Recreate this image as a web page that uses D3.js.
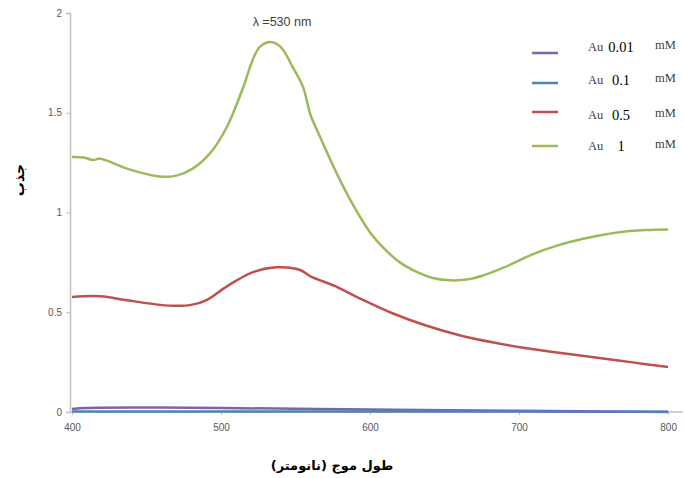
<!DOCTYPE html>
<html>
<head>
<meta charset="utf-8">
<script src="https://cdn.jsdelivr.net/npm/d3@7"></script>
<style>
  body { margin: 0; background: #fff; }
  svg { display: block; }
</style>
</head>
<body>
<svg id="chart" width="684" height="478"></svg>
<script>
// talasne duzine i vrijednosti apsorpcije, procitane sa slike
var wl_green = [400, 408, 414, 419, 437, 459, 470, 481, 493, 504, 515, 521, 526, 533, 540, 548, 555, 560, 564, 570, 580, 590, 600, 610, 620, 632, 642, 654, 666, 676, 690, 709, 726, 743, 766, 785, 800];
var au_1 = [1.278, 1.276, 1.263, 1.27, 1.22, 1.18, 1.185, 1.22, 1.30, 1.43, 1.63, 1.76, 1.83, 1.855, 1.83, 1.73, 1.63, 1.49, 1.42, 1.32, 1.16, 1.02, 0.9, 0.815, 0.75, 0.70, 0.672, 0.66, 0.665, 0.685, 0.725, 0.79, 0.835, 0.868, 0.9, 0.912, 0.915];

var wl_red = [400, 419, 437, 459, 470, 480, 490, 504, 521, 537, 553, 560, 577, 593, 615, 637, 660, 683, 705, 728, 750, 775, 800];
var au_05 = [0.577, 0.58, 0.56, 0.537, 0.532, 0.537, 0.56, 0.63, 0.70, 0.725, 0.712, 0.68, 0.63, 0.57, 0.495, 0.435, 0.385, 0.348, 0.32, 0.296, 0.275, 0.25, 0.225];

var wl_low = [400, 410, 450, 500, 600, 700, 800];
var au_001 = [0.015, 0.02, 0.022, 0.02, 0.012, 0.006, 0.0];
var au_01 = [0.003, 0.003, 0.003, 0.003, 0.002, 0.002, 0.001];

var xTicks = [400, 500, 600, 700, 800];
var yTicks = [0, 0.5, 1, 1.5, 2];

var seriesList = [
  { label: "0.01", wl: wl_low, val: au_001, color: "#8064a2" },
  { label: "0.1", wl: wl_low, val: au_01, color: "#4f81bd" },
  { label: "0.5", wl: wl_red, val: au_05, color: "#c0504d" },
  { label: "1", wl: wl_green, val: au_1, color: "#9bbb59" }
];

var svg = d3.select("#chart");

var x = d3.scaleLinear().domain([400, 810]).range([72, 683]);
var y = d3.scaleLinear().domain([0, 2]).range([412, 13]);

var axisColor = "#bfbfbf";
var labelColor = "#595959";

// y osa
var yAxis = svg.append("g")
  .attr("transform", "translate(70,0)")
  .call(d3.axisLeft(y).tickValues(yTicks).tickSize(4).tickFormat(d3.format("")));
yAxis.select(".domain").attr("stroke", axisColor).attr("stroke-width", 1.5);
yAxis.selectAll(".tick line").attr("stroke", axisColor);
yAxis.selectAll(".tick text")
  .attr("fill", labelColor)
  .attr("font-family", "'Liberation Sans', Arial, sans-serif")
  .attr("font-size", 10)
  .attr("x", -8);

// x osa
var xAxis = svg.append("g")
  .attr("transform", "translate(0,412)")
  .call(d3.axisBottom(x).tickValues(xTicks).tickSize(3).tickSizeOuter(0));
xAxis.select(".domain").attr("stroke", axisColor).attr("stroke-width", 1.5)
  .attr("d", "M70,0H683");
xAxis.selectAll(".tick line").attr("stroke", axisColor);
xAxis.selectAll(".tick text")
  .attr("fill", labelColor)
  .attr("font-family", "'Liberation Sans', Arial, sans-serif")
  .attr("font-size", 10)
  .attr("y", 12);

// linije
var line = d3.line()
  .x(function(d) { return x(d[0]); })
  .y(function(d) { return y(d[1]); })
  .curve(d3.curveCatmullRom.alpha(0.5));

svg.append("g").selectAll("path")
  .data(seriesList)
  .enter().append("path")
  .attr("fill", "none")
  .attr("stroke", function(d) { return d.color; })
  .attr("stroke-width", 2.5)
  .attr("d", function(d) { return line(d3.zip(d.wl, d.val)); });

// natpis vrha
svg.append("text")
  .attr("x", 282)
  .attr("y", 26)
  .attr("text-anchor", "middle")
  .attr("font-family", "'Liberation Sans', Arial, sans-serif")
  .attr("font-size", 12.5)
  .attr("fill", "#404040")
  .text("λ =530 nm");

// legenda
var legendY = [53, 83, 112, 146];
var textY = [51, 84, 119, 150];
var legend = svg.append("g").selectAll("g")
  .data(seriesList)
  .enter().append("g");

legend.append("line")
  .attr("x1", 532).attr("x2", 558)
  .attr("y1", function(d, i) { return legendY[i]; })
  .attr("y2", function(d, i) { return legendY[i]; })
  .attr("stroke", function(d) { return d.color; })
  .attr("stroke-width", 2.5);

legend.append("text")
  .attr("x", 588)
  .attr("y", function(d, i) { return textY[i]; })
  .attr("font-family", "'Liberation Serif', 'Times New Roman', serif")
  .attr("font-size", 12.5)
  .attr("fill", "#404040")
  .text("Au");

legend.append("text")
  .attr("x", 621)
  .attr("y", function(d, i) { return textY[i] + 1; })
  .attr("text-anchor", "middle")
  .attr("font-family", "'Liberation Serif', 'Times New Roman', serif")
  .attr("font-size", 14.5)
  .attr("fill", "#000")
  .text(function(d) { return d.label; });

legend.append("text")
  .attr("x", 655)
  .attr("y", function(d, i) { return textY[i] - 2; })
  .attr("font-family", "'Liberation Serif', 'Times New Roman', serif")
  .attr("font-size", 12.5)
  .attr("fill", "#404040")
  .text("mM");

// naslovi osa
svg.append("text")
  .attr("transform", "translate(24,180) rotate(-90)")
  .attr("text-anchor", "middle")
  .attr("font-family", "'DejaVu Sans', sans-serif")
  .attr("font-weight", "bold")
  .attr("font-size", 14)
  .attr("fill", "#000")
  .text("جذب");

svg.append("text")
  .attr("x", 332)
  .attr("y", 470)
  .attr("text-anchor", "middle")
  .attr("direction", "rtl")
  .attr("font-family", "'DejaVu Sans', sans-serif")
  .attr("font-weight", "bold")
  .attr("font-size", 13)
  .attr("fill", "#000")
  .text("طول موج (نانومتر)");
</script>
</body>
</html>
